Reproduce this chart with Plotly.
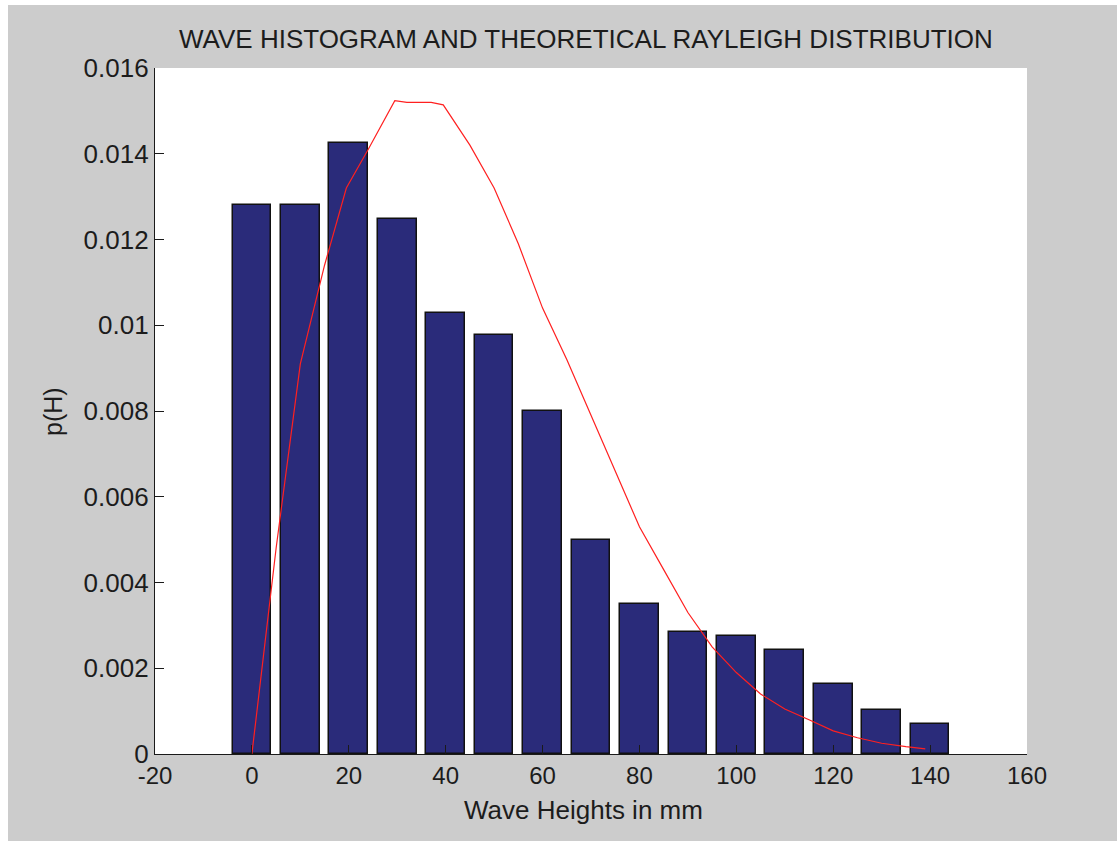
import plotly.graph_objects as go

# Histogram of measured wave heights (bin centres in mm) and probability density
bin_centres = [0, 10, 20, 30, 40, 50, 60, 70, 80, 90, 100, 110, 120, 130, 140]
hist_density = [0.0128, 0.0128, 0.01426, 0.01248, 0.01028, 0.00977, 0.0080,
                0.0050, 0.0035, 0.00284, 0.00275, 0.00243, 0.00163, 0.00103, 0.00069]

# Theoretical Rayleigh density evaluated along the wave heights
rayleigh_h = [0, 5, 10, 15, 19.5, 24, 29.5, 32, 37, 39.5, 45, 50, 55, 60, 65, 70,
              75, 80, 85, 90, 95, 100, 105, 110, 115, 120, 125, 130, 135, 139]
rayleigh_p = [0, 0.0048, 0.0091, 0.0114, 0.0132, 0.0141, 0.01524, 0.0152, 0.0152,
              0.01514, 0.0142, 0.0132, 0.0119, 0.0104, 0.0092, 0.0079, 0.0066,
              0.0053, 0.0043, 0.0033, 0.0025, 0.0019, 0.0014, 0.00105, 0.0008,
              0.00054, 0.00038, 0.00025, 0.00017, 0.00012]

x_ticks = [-20, 0, 20, 40, 60, 80, 100, 120, 140, 160]
x_tick_labels = ["-20", "0", "20", "40", "60", "80", "100", "120", "140", "160"]
y_ticks = [0, 0.002, 0.004, 0.006, 0.008, 0.01, 0.012, 0.014, 0.016]
y_tick_labels = ["0", "0.002", "0.004", "0.006", "0.008", "0.01", "0.012", "0.014", "0.016"]

FONT = "Liberation Sans, Arial, sans-serif"
TEXT = "#1c1c1c"
W, H = 1117, 841
L, R, T, B = 155, 90, 68, 87
PW, PH = W - L - R, H - T - B


def px_x(px):
    return (px - L) / PW


def px_y(py):
    return (H - B - py) / PH


fig = go.Figure()
fig.add_trace(go.Bar(
    x=bin_centres, y=hist_density, width=8,
    marker=dict(color="#2a2b7a", line=dict(color="#111111", width=1.5)),
    showlegend=False,
))
fig.add_trace(go.Scatter(
    x=rayleigh_h, y=rayleigh_p, mode="lines",
    line=dict(color="#ff2020", width=1.2),
    showlegend=False,
))

axis_common = dict(
    showgrid=False, zeroline=False, showline=True, linecolor="#1a1a1a",
    linewidth=1.2, ticks="inside", ticklen=9, tickwidth=1.2, tickcolor="#1a1a1a",
    mirror=False,
)

fig.update_xaxes(range=[-20, 160], tickvals=x_ticks, ticktext=x_tick_labels,
                 tickfont=dict(family=FONT, size=24, color=TEXT), **axis_common)
fig.update_yaxes(range=[0, 0.016], tickvals=y_ticks, ticktext=y_tick_labels,
                 tickfont=dict(family=FONT, size=26, color=TEXT), **axis_common)

annotations = [
    dict(text="WAVE HISTOGRAM AND THEORETICAL RAYLEIGH DISTRIBUTION",
         x=px_x(586), y=px_y(39), xanchor="center", yanchor="middle",
         font=dict(family=FONT, size=26, color=TEXT)),
    dict(text="Wave Heights in mm",
         x=px_x(583), y=px_y(810), xanchor="center", yanchor="middle",
         font=dict(family=FONT, size=26, color=TEXT)),
    dict(text="p(H)", textangle=-90,
         x=px_x(53), y=px_y(412), xanchor="center", yanchor="middle",
         font=dict(family=FONT, size=25, color=TEXT)),
]
for a in annotations:
    a.update(xref="paper", yref="paper", showarrow=False)

# thin white border along the top and left of the figure window
shapes = [
    dict(type="rect", xref="paper", yref="paper", x0=px_x(0), x1=px_x(W),
         y0=px_y(5), y1=px_y(0), fillcolor="white", line=dict(width=0), layer="below"),
    dict(type="rect", xref="paper", yref="paper", x0=px_x(0), x1=px_x(8),
         y0=px_y(H), y1=px_y(0), fillcolor="white", line=dict(width=0), layer="below"),
]

fig.update_layout(
    width=W, height=H,
    margin=dict(l=L, r=R, t=T, b=B, pad=0),
    paper_bgcolor="#cccccc", plot_bgcolor="white",
    bargap=0, annotations=annotations, shapes=shapes,
)

fig.write_html("out.html")
